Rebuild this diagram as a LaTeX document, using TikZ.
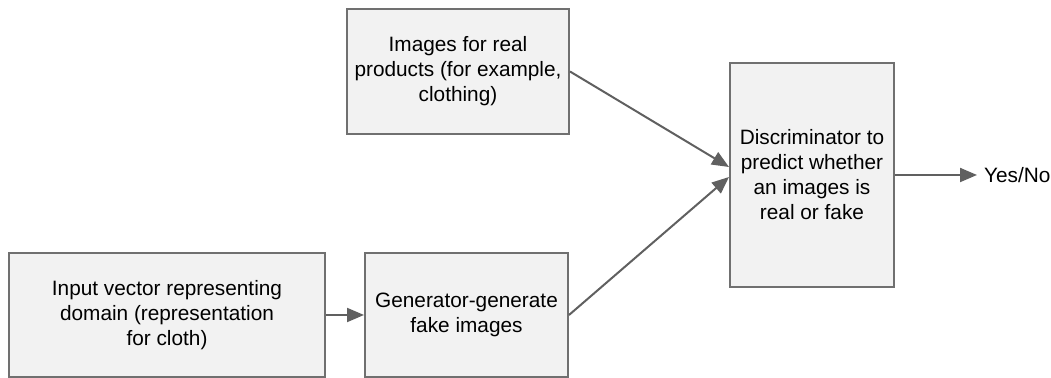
\documentclass[tikz,border=0pt]{standalone}
\usepackage{fontspec}
\setmainfont{Liberation Sans}
\usepackage{tikz}
\usetikzlibrary{arrows.meta}
\definecolor{boxfill}{RGB}{242,242,242}
\definecolor{boxline}{RGB}{112,112,112}
\definecolor{arrline}{RGB}{96,96,96}
\tikzset{>={Triangle[length=8.5pt, width=7pt]}}
\tikzset{block/.style={draw=boxline, fill=boxfill, line width=1pt, align=center,
    inner sep=0pt, font=\fontsize{10.4}{12.5}\selectfont}}

\begin{document}
\begin{tikzpicture}[x=0.5pt, y=-0.5pt]
    \useasboundingbox(0, 0) rectangle (1051, 378);
    \node[block, minimum width=111pt, minimum height=62.5pt](real)at(458, 71.5)
        {Images for real\\products (for example,\\clothing)};
    \node[block, minimum width=158pt, minimum height=62pt](input)at(167, 315)
        {Input vector representing\\domain (representation\\for cloth)};
    \node[block, minimum width=101.5pt, minimum height=62pt](gen)at(466.5, 315)
        {Generator-generate\\fake images};
    \node[block, minimum width=82pt, minimum height=112pt](disc)at(812, 175)
        {Discriminator to\\predict whether\\an images is\\ real or fake};
    \node[anchor=west, font=\fontsize{10.4}{12.5}\selectfont](out)at(977, 175) {Yes/No};
    \draw[->, draw=arrline, fill=arrline, line width=1pt](input)--(gen);
    \draw[->, draw=arrline, fill=arrline, line width=1pt](real.east)--([yshift=4pt]disc.west);
    \draw[->, draw=arrline, fill=arrline, line width=1pt](gen.east)--([yshift=-1pt]disc.west);
    \draw[->, draw=arrline, fill=arrline, line width=1pt](disc)--(out);
\end{tikzpicture}
\end{document}
